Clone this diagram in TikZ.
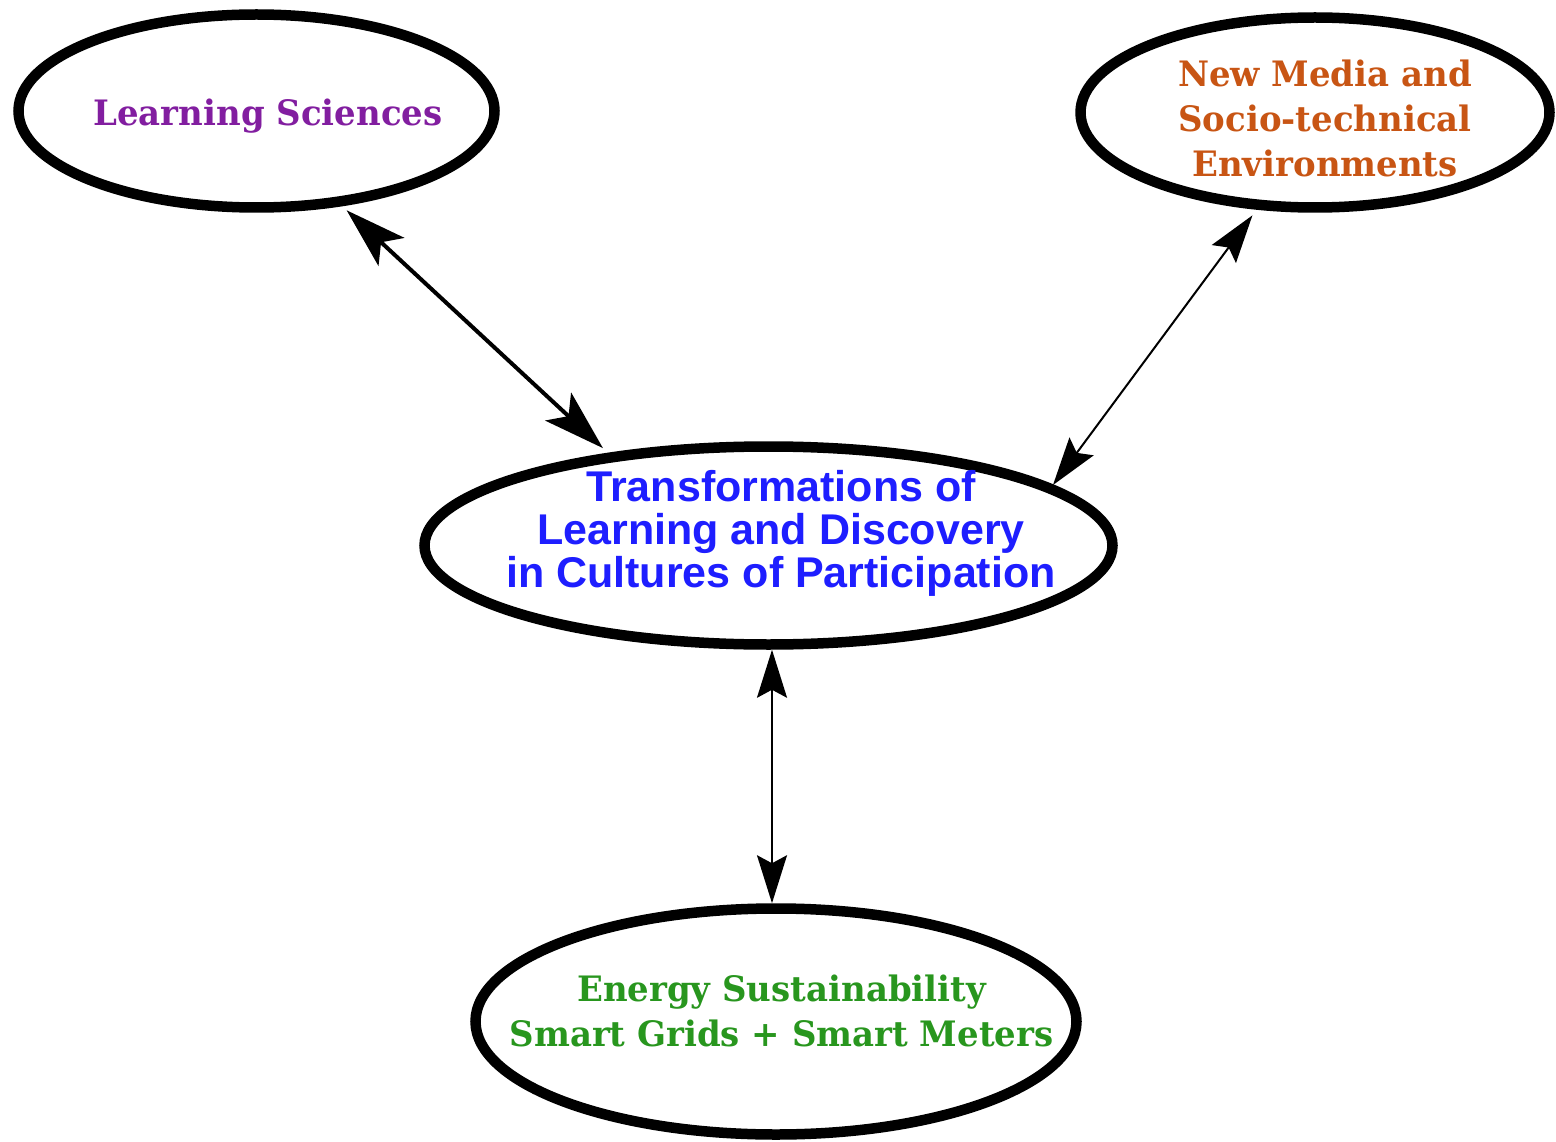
\documentclass[tikz,border=0pt]{standalone}
\usepackage{fontspec}
\setmainfont{DejaVu Serif}[FakeStretch=0.97]
\setsansfont{Liberation Sans}
\usetikzlibrary{shapes.geometric,arrows.meta,calc}
\definecolor{lspurple}{RGB}{130,30,160}
\definecolor{nmorange}{RGB}{200,85,20}
\definecolor{cblue}{RGB}{30,30,255}
\definecolor{egreen}{RGB}{40,150,30}
\begin{document}
\begin{tikzpicture}[x=1pt,y=-1pt,
  ell/.style={draw=black,line width=10.5pt,ellipse,inner sep=0pt},
  serif/.style={font=\bfseries\fontsize{35}{45}\selectfont,align=center,inner sep=0pt},
  sans/.style={font=\sffamily\bfseries\fontsize{43}{43}\selectfont,align=center,inner sep=0pt},
  bigarrow/.style={line width=4pt,
    {Stealth[length=61pt,width=38pt,inset=14pt]}-{Stealth[length=61pt,width=38pt,inset=14pt]}},
  smallarrow/.style={line width=2pt,
    {Stealth[length=48pt,width=30pt,inset=8pt]}-{Stealth[length=48pt,width=30pt,inset=8pt]}}]
\useasboundingbox[fill=white] (0,0) rectangle (1556,1142);

\node[ell,minimum width=476pt,minimum height=193pt] (ls) at (256.5,111) {};
\node[ell,minimum width=469pt,minimum height=190pt] (nm) at (1315,112.5) {};
\node[ell,minimum width=688pt,minimum height=198pt] (c) at (768.5,545.5) {};
\node[ell,minimum width=601pt,minimum height=226pt] (e) at (776,1021.5) {};

\node[serif,text=lspurple] (lst) at (268,116) {Learning Sciences};
\node[serif,text=nmorange] (nmt) at (1325,118) {New Media and\\Socio-technical\\Environments};
\node[sans,text=cblue] (ct) at (781,533) {Transformations of\\Learning and Discovery\\in Cultures of Participation};
\node[serif,text=egreen] (et) at (781.5,1011) {Energy Sustainability\\Smart Grids + Smart Meters};

\draw[bigarrow,shorten <=6pt,shorten >=7pt] (ls.-48) -- (c.150.6);
\draw[smallarrow,shorten <=7pt] (nm.-121.1) -- (c.12);
\draw[smallarrow] ($(c.south)+(3.5,0)$) -- ($(e.north)+(-4,0)$);
\end{tikzpicture}
\end{document}
